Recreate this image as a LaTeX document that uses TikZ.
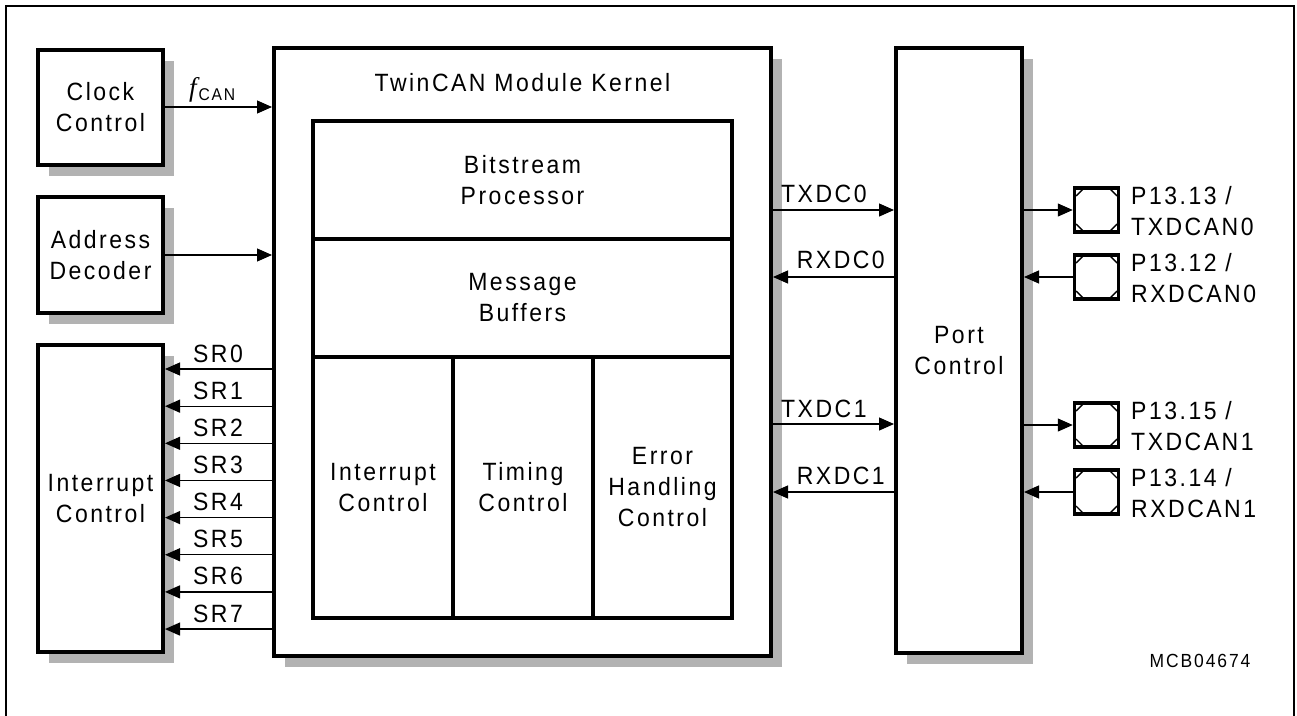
\documentclass[tikz,border=0pt]{standalone}
\usepackage{fontspec}
\setmainfont{Liberation Sans}[LetterSpace=10,FakeStretch=0.92]
\newfontfamily\fserif{Liberation Serif}
\usetikzlibrary{arrows.meta,shadows}
\begin{document}
\begin{tikzpicture}[x=1pt,y=-1pt,
  every node/.style={font=\fontsize{25}{31}\selectfont},
  box/.style={draw, line width=4pt, rectangle, inner sep=0pt, align=center},
  sbox/.style={box, fill=white, general shadow={fill=black!30, shadow xshift=11pt, shadow yshift=-11pt}},
  pinbox/.style={draw, line width=3.5pt, rectangle, minimum width=44pt, minimum height=44pt, inner sep=0pt},
  arr/.style={line width=1.2pt, -{Triangle[length=15pt,width=13pt]}},
  lbl/.style={inner sep=0pt, align=left},
  small/.style={font=\fontsize{19}{19}\selectfont}
]
\useasboundingbox (0,0) rectangle (1297,715);
\draw[line width=2pt] (6,6) rectangle (1294,726);

% left blocks
\node[sbox, minimum width=125pt, minimum height=115pt] (clk) at (100.5,107) {Clock\\Control};
\node[sbox, minimum width=125pt, minimum height=116pt] (adr) at (100.5,255) {Address\\Decoder};
\node[sbox, minimum width=125pt, minimum height=307pt] (irq) at (100.5,498.5) {Interrupt\\Control};

% kernel
\node[sbox, minimum width=497pt, minimum height=608pt] (kernel) at (522.5,352) {};
\node[lbl] (ktitle) at (522.5,83) {TwinCAN Module Kernel};
\node[box, minimum width=419pt, minimum height=118pt] (bsp) at (522.5,180) {Bitstream\\Processor};
\node[box, minimum width=419pt, minimum height=118pt] (msg) at (522.5,298) {Message\\Buffers};
\node[box, minimum width=140pt, minimum height=261pt] (ic) at (383,487.5) {Interrupt\\Control};
\node[box, minimum width=140pt, minimum height=261pt] (tc) at (523,487.5) {Timing\\Control};
\node[box, minimum width=139pt, minimum height=261pt] (ehc) at (662.5,487.5) {Error\\Handling\\Control};

% port control
\node[sbox, minimum width=126pt, minimum height=605pt] (port) at (959,350.5) {Port\\Control};

% pins
\node[pinbox] (pin0) at (1096.5,210) {};
\node[pinbox] (pin1) at (1096.5,277) {};
\node[pinbox] (pin2) at (1096.5,425) {};
\node[pinbox] (pin3) at (1096.5,492) {};
\foreach \p in {pin0,pin1,pin2,pin3}
  \foreach \sx/\sy in {1/1,1/-1,-1/1,-1/-1}
    \draw[line width=1.4pt] ([shift={(\sx*20.5,\sy*14)}]\p.center) -- ([shift={(\sx*14,\sy*20.5)}]\p.center);

\node[lbl, anchor=west] (pl0) at (1131,211) {P13.13 /\\TXDCAN0};
\node[lbl, anchor=west] (pl1) at (1131,278) {P13.12 /\\RXDCAN0};
\node[lbl, anchor=west] (pl2) at (1131,426) {P13.15 /\\TXDCAN1};
\node[lbl, anchor=west] (pl3) at (1131,493) {P13.14 /\\RXDCAN1};

% clock / address arrows
\draw[arr] (clk.east) -- (clk.east -| kernel.west);
\node[lbl, anchor=base west] (fcan) at (189,96) {{\fserif\itshape\fontsize{27}{27}\selectfont f}\hspace{2pt}\raisebox{-4pt}{\fontsize{17}{17}\selectfont CAN}};
\draw[arr] (adr.east) -- (adr.east -| kernel.west);

% SR arrows
\foreach \i in {0,...,7} {
  \coordinate (sry\i) at (0,{369+37.15*\i});
  \draw[arr] (kernel.west |- sry\i) -- (irq.east |- sry\i);
  \node[lbl, anchor=base] (srl\i) at (218,{369+37.15*\i-7}) {SR\i};
}

% kernel <-> port
\coordinate (ytx0) at (0,210);
\coordinate (yrx0) at (0,277);
\coordinate (ytx1) at (0,424);
\coordinate (yrx1) at (0,492);
\draw[arr] (kernel.east |- ytx0) -- (port.west |- ytx0);
\draw[arr] (port.west |- yrx0) -- (kernel.east |- yrx0);
\draw[arr] (kernel.east |- ytx1) -- (port.west |- ytx1);
\draw[arr] (port.west |- yrx1) -- (kernel.east |- yrx1);
\node[lbl, anchor=base west] (ltx0) at (781,202) {TXDC0};
\node[lbl, anchor=base east] (lrx0) at (885,268) {RXDC0};
\node[lbl, anchor=base west] (ltx1) at (781,417) {TXDC1};
\node[lbl, anchor=base east] (lrx1) at (885,484) {RXDC1};

% port <-> pins
\draw[arr] (port.east |- pin0) -- (pin0.west);
\draw[arr] (pin1.west) -- (port.east |- pin1);
\draw[arr] (port.east |- pin2) -- (pin2.west);
\draw[arr] (pin3.west) -- (port.east |- pin3);

\node[lbl, small] (code) at (1200,661) {MCB04674};
\end{tikzpicture}
\end{document}
